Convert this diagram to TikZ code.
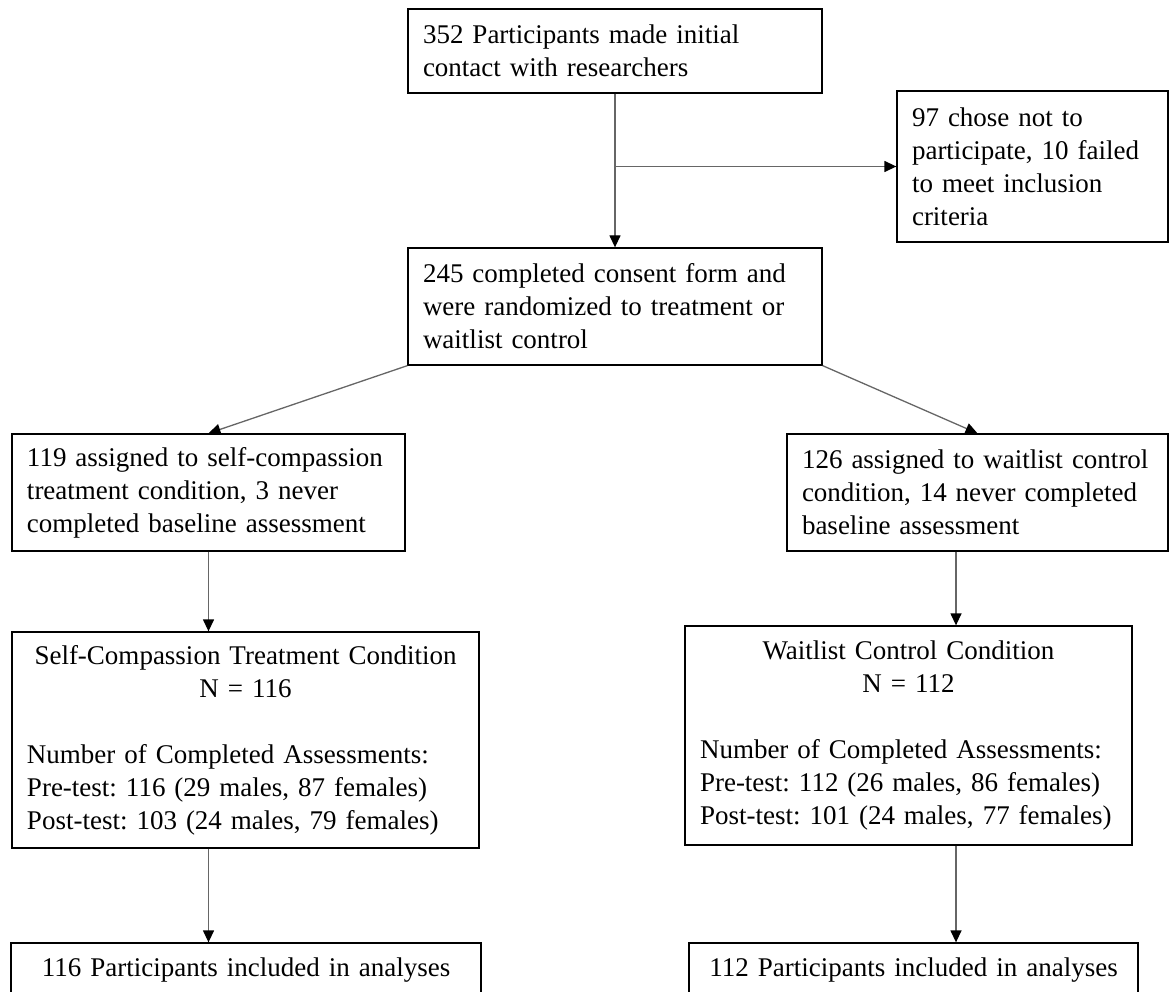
\documentclass[tikz,border=0pt]{standalone}
\usepackage{fontspec}
\setmainfont{Liberation Serif}
\usetikzlibrary{arrows.meta}
\frenchspacing

\tikzset{
  flowbox/.style={draw, line width=1.3pt, inner xsep=15pt, inner ysep=0pt, align=left,
    font=\fontsize{27}{33}\selectfont},
  link/.style={draw=black!60, line width=1.3pt, -{Triangle[black, length=12pt, width=11pt]}}
}

\begin{document}
\begin{tikzpicture}[x=1pt, y=-1pt]
    \useasboundingbox (0,0) rectangle (1172,992);

    % Enrolment
    \node[flowbox, text width=384pt, minimum height=84pt] (contact) at (615,51)
        {352 Participants made initial\\contact with researchers};
    \node[flowbox, text width=241pt, minimum height=151pt] (excl) at (1032.5,166.5)
        {97 chose not to\\participate, 10 failed\\to meet inclusion\\criteria};
    \node[flowbox, text width=384pt, minimum height=117pt] (rand) at (615,306.5)
        {245 completed consent form and\\were randomized to treatment or\\waitlist control};

    % Allocation
    \node[flowbox, text width=363pt, minimum height=117pt] (assignsc) at (208.5,492.5)
        {119 assigned to self-compassion\\treatment condition, 3 never\\completed baseline assessment};
    \node[flowbox, text width=351pt, minimum height=117pt] (assignwl) at (977.5,492.5)
        {126 assigned to waitlist control\\condition, 14 never completed\\baseline assessment};

    % Conditions
    \node[flowbox, text width=437pt, minimum height=216pt] (condsc) at (245.5,740)
        {{\centering Self-Compassion Treatment Condition\\N = 116\par}
         \vspace{33pt}
         Number of Completed Assessments:\\Pre-test: 116 (29 males, 87 females)\\Post-test: 103 (24 males, 79 females)};
    \node[flowbox, text width=417pt, minimum height=219pt] (condwl) at (908.5,735.5)
        {{\centering Waitlist Control Condition\\N = 112\par}
         \vspace{33pt}
         Number of Completed Assessments:\\Pre-test: 112 (26 males, 86 females)\\Post-test: 101 (24 males, 77 females)};

    % Analysis
    \node[flowbox, align=center, text width=440pt, minimum height=54pt] (finalsc) at (246,970)
        {116 Participants included in analyses};
    \node[flowbox, align=center, text width=419pt, minimum height=54pt] (finalwl) at (913.5,970)
        {112 Participants included in analyses};

    % Connectors
    \coordinate (split) at (contact.south |- excl.west);
    \coordinate (wlline) at (956,0);
    \draw[link] (contact) -- (rand);
    \draw[link] (split) -- (excl.west);
    \draw[link] (rand.south west) -- (assignsc.north);
    \draw[link] (rand.south east) -- (assignwl.north);
    \draw[link] (assignsc.south) -- (assignsc.south |- condsc.north);
    \draw[link] (assignsc.south |- condsc.south) -- (assignsc.south |- finalsc.north);
    \draw[link] (assignwl.south -| wlline) -- (condwl.north -| wlline);
    \draw[link] (condwl.south -| wlline) -- (finalwl.north -| wlline);
\end{tikzpicture}
\end{document}
